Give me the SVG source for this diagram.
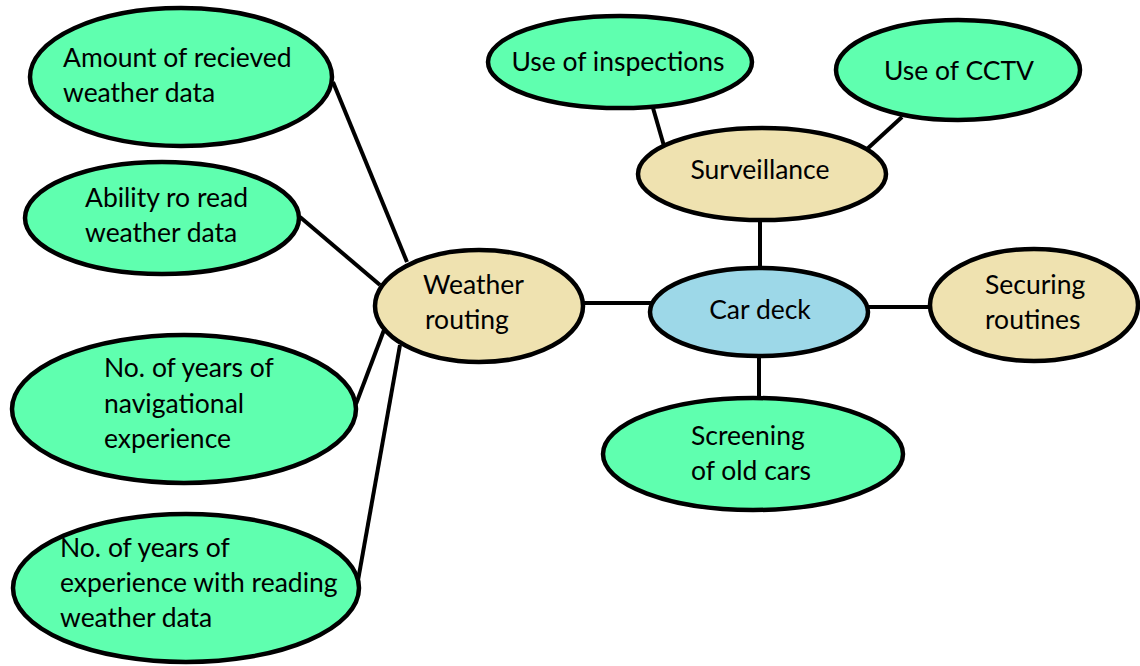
<svg xmlns="http://www.w3.org/2000/svg" width="1140" height="666" viewBox="0 0 1140 666">
<style>
.n{stroke:#000;stroke-width:4.5}
.g{fill:#5fffaf}
.t{fill:#efe2b0}
.b{fill:#9dd8e8}
text{font-family:Lato,"Open Sans","Liberation Sans",sans-serif;font-size:26.5px;fill:#000}
.c line{stroke:#000;stroke-width:4}
</style>
<rect width="1140" height="666" fill="#fff"/>
<g class="c" id="connectors">
<line x1="333" y1="82" x2="407" y2="262"/>
<line x1="300" y1="217" x2="380" y2="285"/>
<line x1="356" y1="404" x2="384" y2="330"/>
<line x1="357" y1="586" x2="400" y2="345"/>
<line x1="583" y1="303" x2="651" y2="303"/>
<line x1="868" y1="307" x2="930" y2="307"/>
<line x1="760" y1="220" x2="760" y2="268"/>
<line x1="759" y1="356" x2="759" y2="398"/>
<line x1="653" y1="108" x2="664" y2="146"/>
<line x1="902" y1="117" x2="866" y2="150"/>
</g>
<g id="amount"><ellipse class="n g" cx="181" cy="77" rx="151" ry="69"/><text x="63" y="67">Amount of recieved</text><text x="63" y="102">weather data</text></g>
<g id="ability"><ellipse class="n g" cx="162" cy="218" rx="137" ry="56"/><text x="85" y="207">Ability ro read</text><text x="85" y="242">weather data</text></g>
<g id="nav"><ellipse class="n g" cx="184" cy="409" rx="172" ry="74"/><text x="104" y="377">No. of years of</text><text x="104" y="413">navigational</text><text x="104" y="448">experience</text></g>
<g id="reading"><ellipse class="n g" cx="186" cy="588" rx="173" ry="74"/><text x="60" y="557">No. of years of</text><text x="60" y="592">experience with reading</text><text x="60" y="627">weather data</text></g>
<g id="weather"><ellipse class="n t" cx="479" cy="306" rx="104" ry="56"/><text x="423" y="294">Weather</text><text x="425" y="329">routing</text></g>
<g id="cardeck"><ellipse class="n b" cx="759" cy="312" rx="109" ry="44"/><text x="760" y="319" text-anchor="middle">Car deck</text></g>
<g id="surveillance"><ellipse class="n t" cx="762" cy="174" rx="124" ry="46"/><text x="760" y="179" text-anchor="middle">Surveillance</text></g>
<g id="inspections"><ellipse class="n g" cx="620" cy="62" rx="132" ry="46"/><text x="618" y="71" text-anchor="middle">Use of inspections</text></g>
<g id="cctv"><ellipse class="n g" cx="958" cy="70" rx="122" ry="50"/><text x="959" y="80" text-anchor="middle">Use of CCTV</text></g>
<g id="securing"><ellipse class="n t" cx="1034" cy="305" rx="104" ry="56"/><text x="985" y="294">Securing</text><text x="985" y="329">routines</text></g>
<g id="screening"><ellipse class="n g" cx="753" cy="454" rx="150" ry="56"/><text x="691" y="445">Screening</text><text x="691" y="480">of old cars</text></g>
</svg>
